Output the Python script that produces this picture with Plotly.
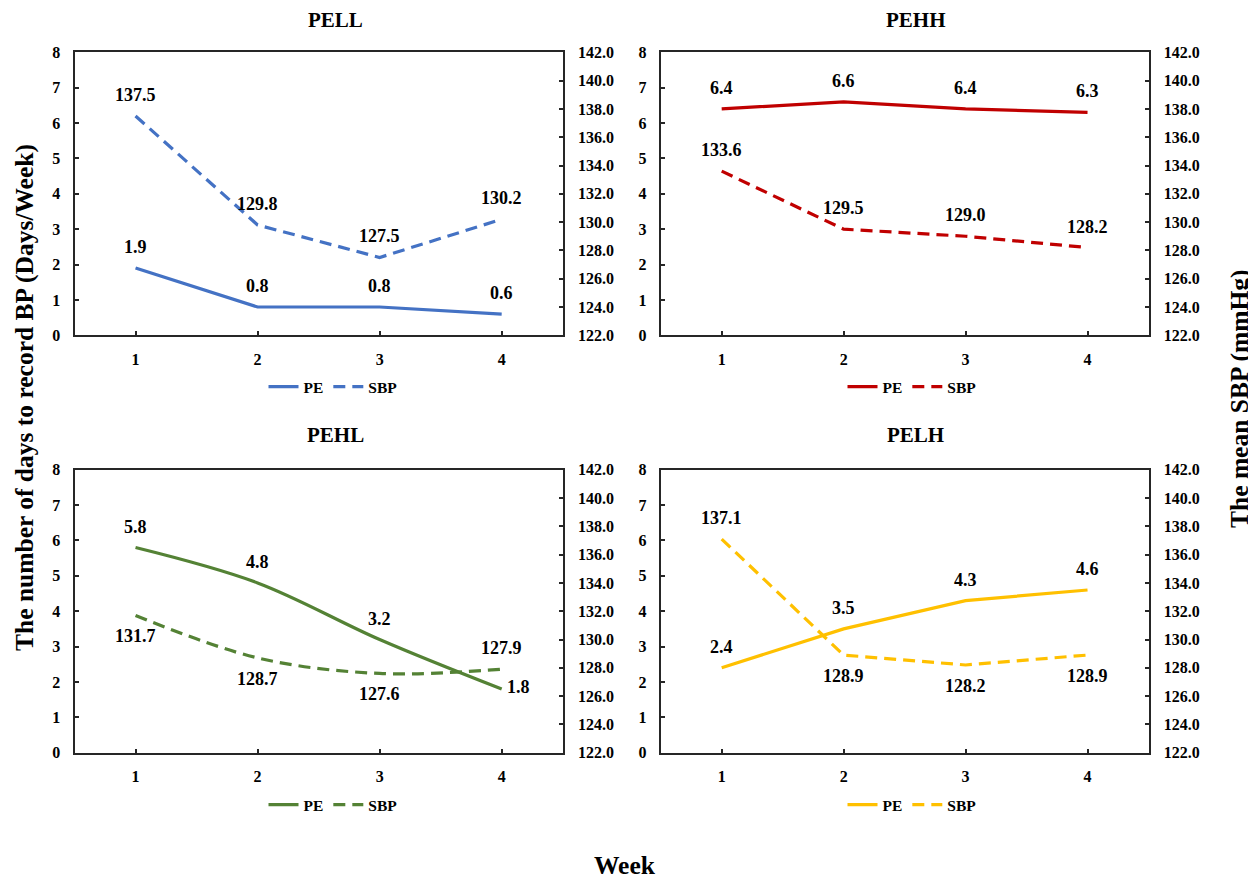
import plotly.graph_objects as go

weeks = [1, 2, 3, 4]
panel_names = ["PELL", "PEHH", "PEHL", "PELH"]
colors = ["#4472C4", "#C00000", "#548235", "#FFC000"]

pe_pell = [1.9, 0.8, 0.8, 0.6]
sbp_pell = [137.5, 129.8, 127.5, 130.2]
pe_pehh = [6.4, 6.6, 6.4, 6.3]
sbp_pehh = [133.6, 129.5, 129.0, 128.2]
pe_pehl = [5.8, 4.8, 3.2, 1.8]
sbp_pehl = [131.7, 128.7, 127.6, 127.9]
pe_pelh = [2.4, 3.5, 4.3, 4.6]
sbp_pelh = [137.1, 128.9, 128.2, 128.9]

pe_series = [pe_pell, pe_pehh, pe_pehl, pe_pelh]
sbp_series = [sbp_pell, sbp_pehh, sbp_pehl, sbp_pelh]

left_ticks = [0, 1, 2, 3, 4, 5, 6, 7, 8]
right_ticks = [122, 124, 126, 128, 130, 132, 134, 136, 138, 140, 142]

# label placement (style only): 'a' above, 'b' below, 'r' right
pe_pos = [["a"] * 4, ["a"] * 4, ["a", "a", "a", "r"], ["a"] * 4]
sbp_pos = [["a"] * 4, ["a"] * 4, ["b", "b", "b", "a"], ["a", "b", "b", "b"]]
smooth = [False, False, True, False]

W, H = 1256, 879
OFF = 8  # page body margin
FONT = "Liberation Serif"
AX = "#262626"


def px(xp):
    return (xp - OFF) / W


def py(yp):
    return 1 - (yp - OFF) / H


# panel boxes in screen pixels: (left, right, top, bottom)
boxes = [(74.5, 562.7, 52.3, 335.3), (660.7, 1148.5, 52.3, 335.3),
         (74.5, 562.7, 469.7, 752.7), (660.7, 1148.5, 469.7, 752.7)]
title_pos = [(335, 20), (916, 20), (335, 435), (916, 435)]
legend_pos = [(333, 387), (912, 387), (333, 805), (912, 805)]

fig = go.Figure()
annotations = []
layout = {}
for i in range(4):
    l, r, t, b = boxes[i]
    xn = "" if i == 0 else str(i + 1)
    yl = "" if i == 0 else str(2 * i + 1)
    yr = str(2 * i + 2)
    xref, ylref, yrref = "x" + xn, "y" + yl, "y" + yr
    leg = "legend" if i == 0 else "legend" + str(i + 1)
    shape = "spline" if smooth[i] else "linear"
    fig.add_trace(go.Scatter(x=weeks, y=pe_series[i], mode="lines", name="PE",
                             line=dict(color=colors[i], width=3.2, shape=shape),
                             xaxis=xref, yaxis=ylref, legend=leg))
    fig.add_trace(go.Scatter(x=weeks, y=sbp_series[i], mode="lines", name="SBP",
                             line=dict(color=colors[i], width=3.2, dash="12px,7px", shape=shape),
                             xaxis=xref, yaxis=yrref, legend=leg))
    xd = [px(l), px(r)]
    yd = [py(b), py(t)]
    tickfont = dict(family=FONT, size=16, color="black", weight=700)
    common = dict(ticks="inside", ticklen=4, tickwidth=1.5, tickcolor=AX,
                  showline=True, linecolor=AX, linewidth=2, showgrid=False,
                  zeroline=False, tickfont=tickfont, automargin=False, fixedrange=True)
    layout["xaxis" + xn] = dict(domain=xd, anchor=ylref, range=[0.5, 4.5], tickvals=weeks,
                                mirror=True, ticklabelstandoff=8, **common)
    layout["yaxis" + yl] = dict(domain=yd, anchor=xref, range=[0, 8], tickvals=left_ticks,
                                ticklabelstandoff=9, **common)
    layout["yaxis" + yr] = dict(domain=yd, anchor=xref, overlaying=ylref, side="right",
                                range=[122, 142], tickvals=right_ticks, tickformat=".1f",
                                ticklabelstandoff=10, **common)
    lx, ly = legend_pos[i]
    layout[leg] = dict(orientation="h", x=px(lx), y=py(ly), xanchor="center",
                       yanchor="middle", xref="paper", yref="paper",
                       font=dict(family=FONT, size=15.5, color="black", weight=700),
                       bgcolor="rgba(0,0,0,0)", itemwidth=30, tracegroupgap=0)
    tx, ty = title_pos[i]
    annotations.append(dict(text=panel_names[i], x=px(tx), y=py(ty), xref="paper",
                            yref="paper", showarrow=False, xanchor="center", yanchor="middle",
                            font=dict(family=FONT, size=21, color="black", weight=700)))
    lab_font = dict(family=FONT, size=18, color="black", weight=700)
    for vals, pos, yref in ((pe_series[i], pe_pos[i], ylref), (sbp_series[i], sbp_pos[i], yrref)):
        for wk, v, p in zip(weeks, vals, pos):
            a = dict(text=f"{v:.1f}", x=wk, y=v, xref=xref, yref=yref, showarrow=False,
                     font=lab_font, yanchor="middle")
            if p == "a":
                a.update(xanchor="center", yshift=21)
            elif p == "b":
                a.update(xanchor="center", yshift=-21)
            else:
                a.update(xanchor="left", xshift=3, yshift=2)
            annotations.append(a)

title_font = dict(family=FONT, size=25.5, color="black", weight=700)
annotations.append(dict(text="The number of days to record BP (Days/Week)", x=px(25), y=py(398),
                        xref="paper", yref="paper", showarrow=False, textangle=-90,
                        xanchor="center", yanchor="middle", font=title_font))
annotations.append(dict(text="The mean SBP (mmHg)", x=px(1239), y=py(399),
                        xref="paper", yref="paper", showarrow=False, textangle=-90,
                        xanchor="center", yanchor="middle", font=title_font))
annotations.append(dict(text="Week", x=px(625), y=py(865), xref="paper", yref="paper",
                        showarrow=False, xanchor="center", yanchor="middle", font=title_font))

fig.update_layout(**layout)
fig.update_layout(width=W, height=H, margin=dict(l=0, r=0, t=0, b=0, autoexpand=False),
                  paper_bgcolor="white", plot_bgcolor="white", annotations=annotations,
                  showlegend=True)
fig.write_html("out.html")
